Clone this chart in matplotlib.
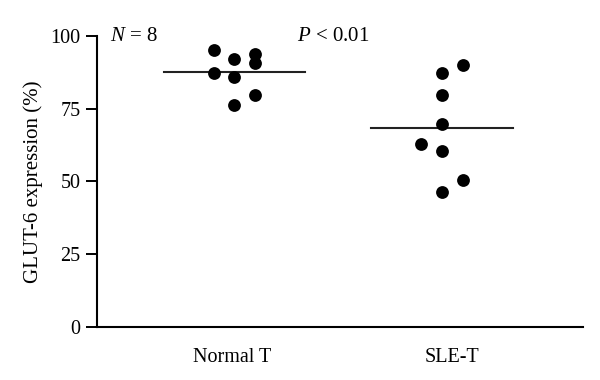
import matplotlib.pyplot as plt

plt.rcParams['font.family'] = ['Liberation Serif', 'DejaVu Serif']
plt.rcParams['mathtext.fontset'] = 'custom'
plt.rcParams['mathtext.it'] = 'Liberation Serif:italic'
plt.rcParams['mathtext.rm'] = 'Liberation Serif'

groups = ['Normal T', 'SLE-T']

normal_vals = [95.2, 87.2, 92.1, 85.8, 76.4, 93.9, 90.6, 79.9]
normal_jitter = [-0.1, -0.1, 0.0, 0.0, 0.0, 0.1, 0.1, 0.1]

sle_vals = [62.8, 87.3, 79.8, 69.9, 60.4, 46.4, 90.2, 50.5]
sle_jitter = [-0.1, 0.0, 0.0, 0.0, 0.0, 0.0, 0.1, 0.1]

means = [87.8, 68.5]
yticks = [0, 25, 50, 75, 100]


def main():
    fig = plt.figure(figsize=(6, 3.8), dpi=100)
    ax = fig.add_axes([0.162, 0.14, 0.81, 0.765])

    for i, (vals, jit) in enumerate([(normal_vals, normal_jitter), (sle_vals, sle_jitter)]):
        pos = i + 1
        ax.scatter([pos + j for j in jit], vals, s=85, color='black', zorder=3, linewidths=0)
        ax.plot([pos - 0.34, pos + 0.34], [means[i], means[i]], color='#222222', lw=1.5)

    ax.set_xlim(0.34, 2.68)
    ax.set_ylim(0, 100)
    ax.set_yticks(yticks)
    ax.set_yticklabels([str(t) for t in yticks], fontsize=14.5)
    ax.set_xticks([0.99, 2.05])
    ax.set_xticklabels(groups, fontsize=14.5)
    ax.tick_params(axis='x', length=0, pad=15)
    ax.tick_params(axis='y', length=8, width=1.4, pad=4)
    ax.spines['top'].set_visible(False)
    ax.spines['right'].set_visible(False)
    for s in ['left', 'bottom']:
        ax.spines[s].set_linewidth(1.5)
    ax.set_ylabel('GLUT-6 expression (%)', fontsize=15, labelpad=5)

    ax.text(0.40, 100, '$N$ = 8', fontsize=15, va='center', ha='left')
    ax.text(1.30, 100, '$P$ < 0.01', fontsize=15, va='center', ha='left')

    fig.savefig('out.png', dpi=100)


if __name__ == "__main__":
    main()
